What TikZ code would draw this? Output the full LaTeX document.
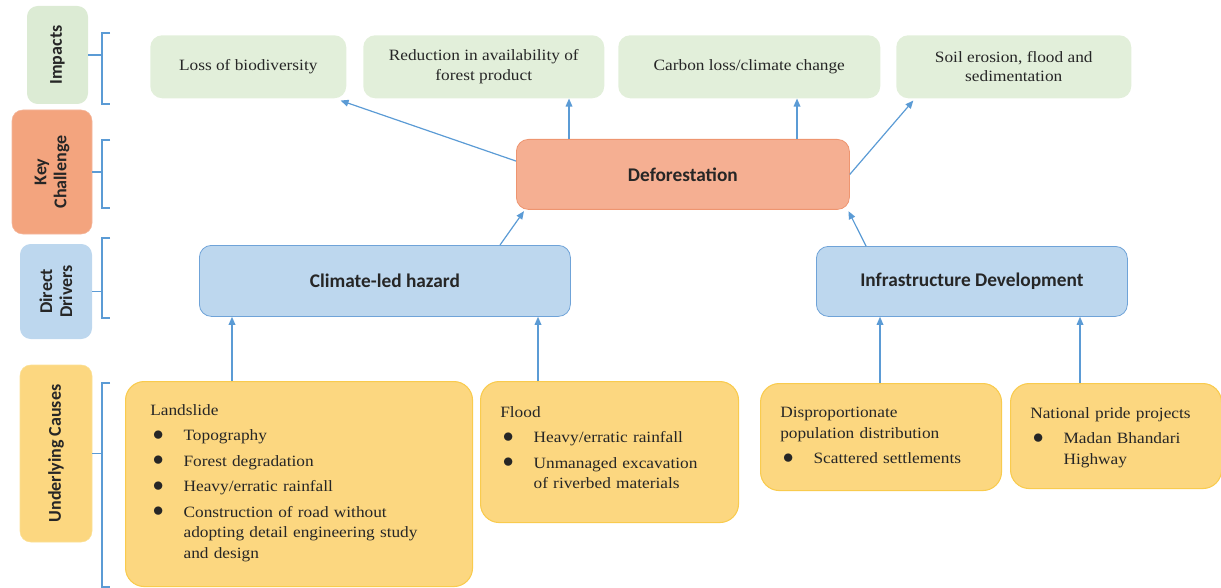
\documentclass[tikz,border=0pt]{standalone}
\usepackage{fontspec}
\setmainfont{Liberation Serif}[FakeStretch=1.1]
\newfontfamily\labfont{Carlito}
\usetikzlibrary{arrows.meta}

\definecolor{impfill}{HTML}{E2EFDA}
\definecolor{implab}{HTML}{DCEBD4}
\definecolor{keyfill}{HTML}{F5AF92}
\definecolor{keyline}{HTML}{EE9570}
\definecolor{keylab}{HTML}{F3A47E}
\definecolor{drvfill}{HTML}{BDD7EE}
\definecolor{drvline}{HTML}{6FA3D8}
\definecolor{undfill}{HTML}{FCD780}
\definecolor{undline}{HTML}{F9CB4E}
\definecolor{linkblue}{HTML}{5B9BD5}
\definecolor{txt}{HTML}{262626}

% one item of a bullet list: bullet, then a top-aligned block of lines
\newcommand\bitem[1]{\par\vspace{3.6pt}\noindent\hspace*{2pt}%
  \makebox[23pt][l]{\raisebox{0.3pt}{\scalebox{1.35}{$\bullet$}}}%
  \parbox[t]{200pt}{\fontsize{11.8}{15.5}\selectfont\raggedright #1}}

\begin{document}
\begin{tikzpicture}[x=0.75pt,y=-0.75pt,
  sz/.style 2 args={minimum width=#1*0.75pt,minimum height=#2*0.75pt},
  base/.style={rounded corners=9pt, inner sep=0pt, anchor=north west, text=txt},
  imp/.style={base, fill=impfill, font=\fontsize{11.8}{14.5}\selectfont, align=center},
  key/.style={base, fill=keyfill, draw=keyline, line width=0.6pt, font=\labfont\bfseries\fontsize{14.5}{16}\selectfont},
  drv/.style={base, fill=drvfill, draw=drvline, line width=0.6pt, font=\labfont\bfseries\fontsize{14.5}{16}\selectfont},
  und/.style={base, fill=undfill, draw=undline, line width=0.8pt, rounded corners=14pt},
  utext/.style={anchor=north west, inner sep=0pt, text=txt,
     font=\fontsize{11.8}{15.5}\selectfont},
  lab/.style={rotate=90, rounded corners=8pt, inner sep=0pt, text=txt, align=center,
     font=\labfont\bfseries\fontsize{13.5}{15}\selectfont},
  link/.style={draw=linkblue, line width=0.9pt, -{Triangle[length=6pt,width=5pt]}},
  brace/.style={draw=linkblue, line width=0.8pt}
]
\useasboundingbox (0,0) rectangle (1221,588);

% ---- row labels on the left
\node[lab, fill=implab, sz={98}{61}] (limp) at (57.5,55) {Impacts};
\node[lab, fill=keylab, draw=keyline!70, sz={124}{80}] (lkey) at (52,172) {Key\\Challenge};
\node[lab, fill=drvfill, sz={95}{72}] (ldrv) at (56,291.5) {Direct\\Drivers};
\node[lab, fill=undfill, draw=undline!60, sz={177}{72}] (lund) at (56,453.5) {Underlying Causes};

% ---- brackets joining each label to its row
\coordinate (bx) at (102,0);
\coordinate (b1t) at (110,33);  \coordinate (b1b) at (110,104);
\coordinate (b2t) at (110,140); \coordinate (b2b) at (110,208);
\coordinate (b3t) at (110,238); \coordinate (b3b) at (110,318);
\coordinate (b4t) at (110,383); \coordinate (b4b) at (110,587);
\draw[brace] (b1t) -- (b1t -| bx) -- (b1b -| bx) -- (b1b);
\draw[brace] (limp.south) -- (limp.south -| bx);
\draw[brace] (b2t) -- (b2t -| bx) -- (b2b -| bx) -- (b2b);
\draw[brace] (lkey.south) -- (lkey.south -| bx);
\draw[brace] (b3t) -- (b3t -| bx) -- (b3b -| bx) -- (b3b);
\draw[brace] (ldrv.south) -- (ldrv.south -| bx);
\draw[brace] (b4t) -- (b4t -| bx) -- (b4b -| bx) -- (b4b);
\draw[brace] (lund.south) -- (lund.south -| bx);

% ---- impacts
\node[imp, sz={196}{63}] (loss) at (150,35) {Loss of biodiversity};
\node[imp, sz={241}{63}] (red)  at (363,35) {Reduction in availability of\\forest product};
\node[imp, sz={262}{63}] (carb) at (618,35) {Carbon loss/climate change};
\node[imp, sz={235}{63}] (soil) at (896,35) {Soil erosion, flood and\\sedimentation};

% ---- key challenge
\node[key, sz={333}{70}] (defo) at (516,139) {Deforestation};

% ---- direct drivers
\node[drv, sz={371}{71}] (clim)  at (199,245) {Climate-led hazard};
\node[drv, sz={311}{70}] (infra) at (816,246) {Infrastructure Development};

% ---- underlying causes
\node[und, sz={347}{205}] (land)  at (125,381) {};
\node[und, sz={258}{141}] (flood) at (480,381) {};
\node[und, sz={241}{107}] (disp)  at (760,383) {};
\node[und, sz={211}{105}] (nat)   at (1010,383) {};

\node[utext, text width=230pt] (landt) at (150,404) {Landslide
  \bitem{Topography}
  \bitem{Forest degradation}
  \bitem{Heavy/erratic rainfall}
  \bitem{Construction of road without\\adopting detail engineering study\\and design}};
\node[utext, text width=180pt] (floodt) at (500,406) {Flood
  \bitem{Heavy/erratic rainfall}
  \bitem{Unmanaged excavation\\of riverbed materials}};
\node[utext, text width=170pt] (dispt) at (780,407) {Disproportionate\\population distribution
  \bitem{Scattered settlements}};
\node[utext, text width=145pt] (natt) at (1030,407) {National pride projects
  \bitem{Madan Bhandari\\Highway}};

% ---- connectors
\coordinate (xa) at (232,0);  \coordinate (xb) at (538,0);
\coordinate (xc) at (880,0);  \coordinate (xd) at (1080,0);
\coordinate (xe) at (569,0);  \coordinate (xf) at (797,0);
\coordinate (xg) at (500,0);  \coordinate (xh) at (866,0);
\draw[link] (land.north -| xa)  -- (clim.south -| xa);
\draw[link] (flood.north -| xb) -- (clim.south -| xb);
\draw[link] (disp.north -| xc)  -- (infra.south -| xc);
\draw[link] (nat.north -| xd)   -- (infra.south -| xd);
\draw[link] (clim.north -| xg)  -- ([xshift=6pt,yshift=-1pt]defo.south west);
\draw[link] (infra.north -| xh) -- ([xshift=-1pt,yshift=-1pt]defo.south east);
\draw[link] (defo.north -| xe)  -- (red.south -| xe);
\draw[link] (defo.north -| xf)  -- (carb.south -| xf);
\draw[link] ([yshift=10pt]defo.west) -- ([xshift=-4.5pt,yshift=-1.5pt]loss.south east);
\draw[link] (defo.east) -- ([xshift=13pt,yshift=-1.5pt]soil.south west);
\end{tikzpicture}
\end{document}
